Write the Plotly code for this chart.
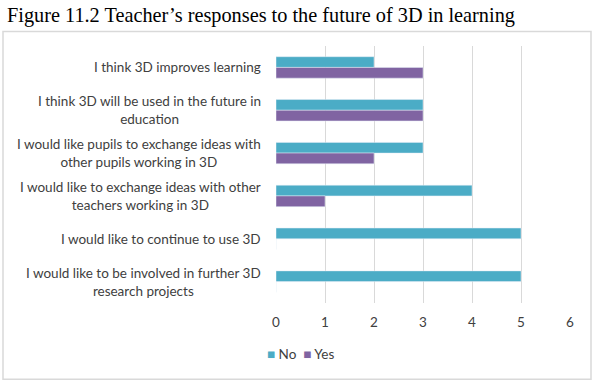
import plotly.graph_objects as go

categories = [
    "I think 3D improves learning",
    "I think 3D will be used in the future in<br>education",
    "I would like pupils to exchange ideas with<br>other pupils working in 3D",
    "I would like to exchange ideas with other<br>teachers working in 3D",
    "I would like to continue to use 3D",
    "I would like to be involved in further 3D<br>research projects",
]
no_values = [2, 3, 3, 4, 5, 5]
yes_values = [3, 3, 2, 1, 0, 0]
x_ticks = [0, 1, 2, 3, 4, 5, 6]
series_names = ["No", "Yes"]

NO_COLOR = "#4BACC6"
YES_COLOR = "#8064A2"
FONT = "Lato"

fig = go.Figure()
fig.add_trace(go.Bar(y=categories, x=no_values, name=series_names[0], orientation="h",
                     marker=dict(color=NO_COLOR), showlegend=False))
fig.add_trace(go.Bar(y=categories, x=yes_values, name=series_names[1], orientation="h",
                     marker=dict(color=YES_COLOR), showlegend=False))

W, H = 600, 385
L, R, T, B = 276, 30, 45.5, 81.5
pw, ph = W - L - R, H - T - B

annotations = []
for c in categories:
    annotations.append(dict(x=0, xref="paper", y=c, yref="y", text=c, showarrow=False,
                            xanchor="right", xshift=-13, align="center",
                            font=dict(family=FONT, size=13.5, color="#404040")))
annotations.append(dict(x=(5 - L) / pw, xref="paper", y=(H - 15 - B) / ph, yref="paper",
                        text="Figure 11.2 Teacher’s responses to the future of 3D in learning",
                        showarrow=False, xanchor="left", yanchor="middle",
                        font=dict(family="Liberation Serif", size=20.3, color="#000000")))
legend_text = (f"<span style='color:{NO_COLOR}'>■</span> {series_names[0]}  "
               f"<span style='color:{YES_COLOR}'>■</span> {series_names[1]}")
annotations.append(dict(x=(265 - L) / pw, xref="paper", y=(H - 355 - B) / ph, yref="paper",
                        text=legend_text, showarrow=False, xanchor="left", yanchor="middle",
                        font=dict(family=FONT, size=13.5, color="#404040")))

fig.update_layout(
    width=W, height=H,
    margin=dict(l=L, r=R, t=T, b=B),
    paper_bgcolor="white", plot_bgcolor="white",
    barmode="group", bargap=0.5, bargroupgap=0,
    showlegend=False,
    xaxis=dict(range=[0, 6], tickvals=x_ticks, showgrid=True, gridcolor="#d9d9d9",
               gridwidth=1, zeroline=False, showline=False, ticks="",
               tickfont=dict(family=FONT, size=13.5, color="#404040"), ticklabelstandoff=9),
    yaxis=dict(autorange="reversed", showticklabels=False, showgrid=False,
               zeroline=False, showline=False),
    annotations=annotations,
    shapes=[dict(type="rect", xref="paper", yref="paper",
                 x0=(3 - L) / pw, x1=(591 - L) / pw,
                 y0=(H - 380 - B) / ph, y1=(H - 31 - B) / ph,
                 line=dict(color="#d9d9d9", width=1.5), fillcolor="rgba(0,0,0,0)",
                 layer="below")],
)

fig.write_html("out.html", config={"displayModeBar": False},
               post_script="document.body.style.margin='0';document.body.style.padding='0';")
